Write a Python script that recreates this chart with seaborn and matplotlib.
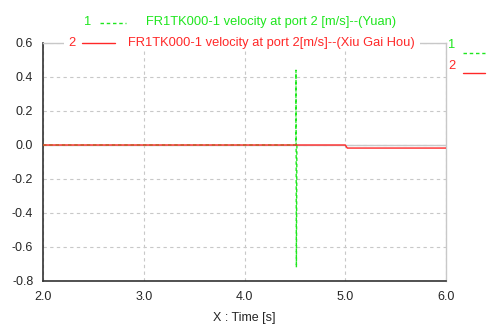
import numpy as np
import pandas as pd
import seaborn as sns
import matplotlib.pyplot as plt
from matplotlib.ticker import MultipleLocator
from matplotlib.patches import Rectangle

# series 1 (Yuan): short spike near t = 4.5 s
t_yuan = [2.0, 4.510, 4.511, 4.515, 4.520]
v_yuan = [0.0, 0.0, 0.44, -0.72, 0.0]

# series 2 (Xiu Gai Hou): zero, small step down at 5 s
t_xgh = [2.0, 5.0, 5.02, 6.0]
v_xgh = [0.0, 0.0, -0.018, -0.018]

x_ticks = [2.0, 3.0, 4.0, 5.0, 6.0]
y_ticks = [0.6, 0.4, 0.2, 0.0, -0.2, -0.4, -0.6, -0.8]

green = '#1ee61e'
red = '#ff2828'
grid_c = '#c8c8c8'
W, H = 487.0, 325.0

sns.set_style('white')
plt.rcParams['font.family'] = ['Liberation Sans', 'DejaVu Sans']
plt.rcParams['font.size'] = 9

fig = plt.figure(figsize=(4.87, 3.25), dpi=100)
ax = fig.add_axes([43 / W, 1 - 281 / H, 403 / W, 238 / H])

ax.axhline(0, color=grid_c, lw=1, zorder=1)
sns.lineplot(x=t_yuan, y=v_yuan, color=green, lw=1, linestyle=(0, (2.5, 2)), ax=ax, zorder=3)
sns.lineplot(x=t_xgh, y=v_xgh, color=red, lw=1, ax=ax, zorder=4)

ax.set_xlim(2.0, 6.0)
ax.set_ylim(-0.8, 0.6)
ax.set_xticks(x_ticks)
ax.set_xticklabels(['%.1f' % v for v in x_ticks])
ax.set_yticks(y_ticks)
ax.set_yticklabels(['%.1f' % v for v in y_ticks])
ax.xaxis.set_minor_locator(MultipleLocator(0.2))
ax.yaxis.set_minor_locator(MultipleLocator(0.1))
ax.tick_params(axis='both', which='major', direction='out', length=5, width=1, color='#333333', labelsize=9, pad=2)
ax.tick_params(axis='x', which='minor', direction='in', length=3, width=1, color='#333333')
ax.tick_params(axis='y', which='minor', direction='out', length=3, width=1, color='#333333')

ax.grid(True, which='major', color=grid_c, ls=(0, (3, 3)), lw=0.8)
for s in ['left', 'bottom']:
    ax.spines[s].set_color('#333333')
    ax.spines[s].set_linewidth(1.2)
for s in ['top', 'right']:
    ax.spines[s].set_color(grid_c)
    ax.spines[s].set_linewidth(1)

ax.set_xlabel('X : Time [s]', labelpad=7)


def fx(px):
    return px / W


def fy(py):
    return 1 - py / H


# legend row 1 (green, above plot)
fig.text(fx(88), fy(22), '1', color=green, ha='center', va='center', fontsize=9.3)
fig.add_artist(plt.Line2D([fx(100), fx(126)], [fy(23), fy(23)], color=green, lw=1, ls=(0, (2.5, 2))))
fig.text(fx(146), fy(22), 'FR1TK000-1 velocity at port 2 [m/s]--(Yuan)', color=green, ha='left', va='center', fontsize=9.3)

# legend row 2 (red, on top frame) with white backing
fig.add_artist(Rectangle((fx(64), fy(50)), fx(420) - fx(64), 14 / H, facecolor='white', edgecolor='none', zorder=5))
fig.text(fx(72), fy(43), '2', color=red, ha='center', va='center', zorder=6, fontsize=9.3)
fig.add_artist(plt.Line2D([fx(82), fx(115)], [fy(43), fy(43)], color=red, lw=1, zorder=6))
fig.text(fx(128), fy(43), 'FR1TK000-1 velocity at port 2[m/s]--(Xiu Gai Hou)', color=red, ha='left', va='center',
         zorder=6, fontsize=9.3)

# right-hand legend
fig.text(fx(452), fy(45), '1', color=green, ha='center', va='center', fontsize=9.3)
fig.add_artist(plt.Line2D([fx(463), fx(485)], [fy(53), fy(53)], color=green, lw=1, ls=(0, (2.5, 2))))
fig.text(fx(452), fy(66), '2', color=red, ha='center', va='center', fontsize=9.3)
fig.add_artist(plt.Line2D([fx(463), fx(485)], [fy(73), fy(73)], color=red, lw=1))

fig.savefig('out.png', dpi=100)
